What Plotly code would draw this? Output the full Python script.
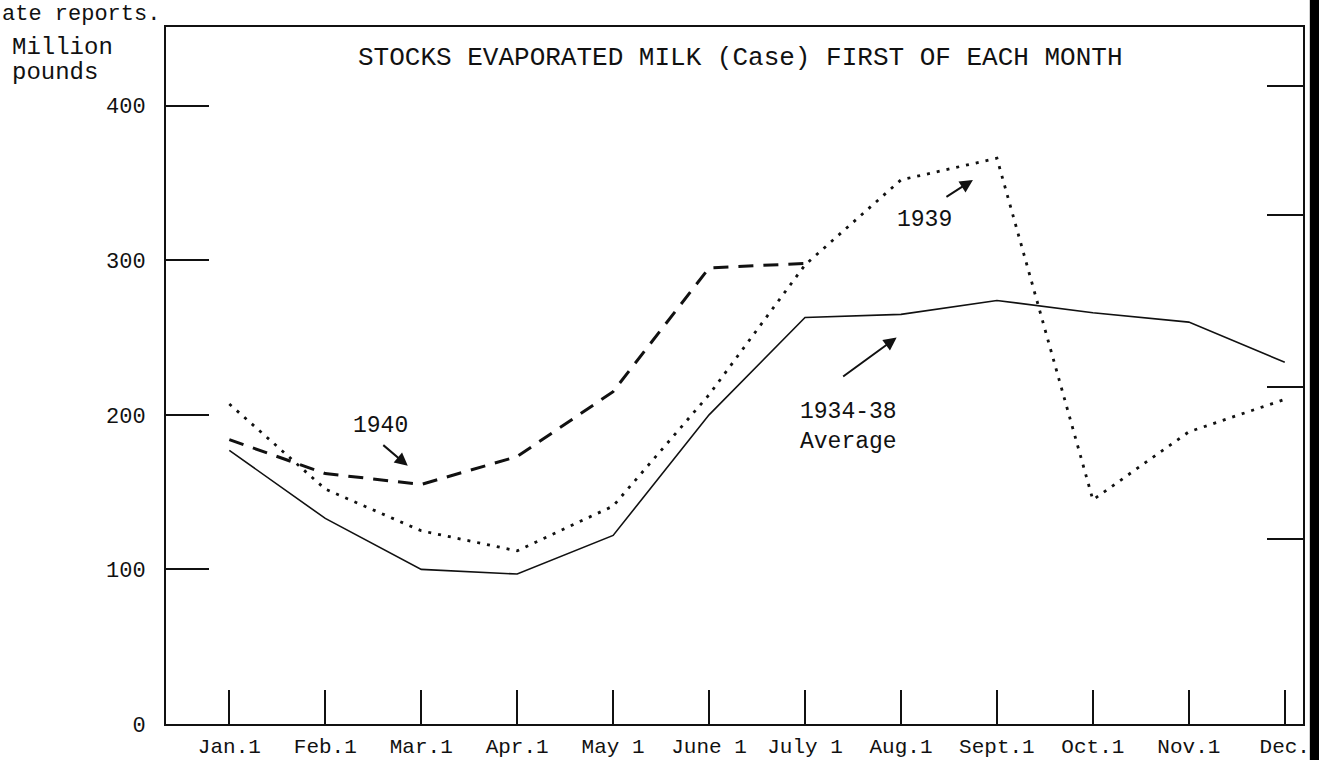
import plotly.graph_objects as go

months = ["Jan.1", "Feb.1", "Mar.1", "Apr.1", "May 1", "June 1", "July 1",
          "Aug.1", "Sept.1", "Oct.1", "Nov.1", "Dec."]
avg_1934_38 = [177, 133, 100, 97, 122, 200, 263, 265, 274, 266, 260, 234]
y1939 = [207, 152, 125, 112, 141, 213, 297, 352, 366, 145, 189, 210]
y1940 = [184, 162, 155, 173, 215, 295, 298]
yticks = [0, 100, 200, 300, 400]
ytick_text = ["0", "100", "200", "300", "400"]
right_marks = [120, 218, 329, 413]

FONT = "Liberation Mono, DejaVu Sans Mono, monospace"
INK = "#111111"

fig = go.Figure()
fig.add_trace(go.Scatter(x=months, y=avg_1934_38, mode="lines",
                         line=dict(color=INK, width=1.6), name="1934-38 Average"))
fig.add_trace(go.Scatter(x=months, y=y1939, mode="lines",
                         line=dict(color=INK, width=2.8, dash="3px,7px"), name="1939"))
fig.add_trace(go.Scatter(x=months[:len(y1940)], y=y1940, mode="lines",
                         line=dict(color=INK, width=3, dash="15px,10px"), name="1940"))
# invisible trace to activate right axis
fig.add_trace(go.Scatter(x=[months[0]], y=[0], yaxis="y2", mode="markers",
                         marker=dict(opacity=0), showlegend=False, hoverinfo="skip"))

fig.update_layout(
    width=1319, height=760,
    margin=dict(l=166, r=16, t=27, b=35.5),
    paper_bgcolor="white", plot_bgcolor="white",
    showlegend=False,
    font=dict(family=FONT, color=INK, size=22),
    xaxis=dict(type="category", range=[-0.66, 11.19], tickmode="array",
               tickvals=months, ticktext=months, ticks="inside", ticklen=34,
               tickwidth=2, tickcolor=INK, showline=True, linecolor=INK,
               linewidth=2, mirror=True, showgrid=False, zeroline=False,
               automargin=False, tickfont=dict(family=FONT, size=21, color=INK),
               ticklabelstandoff=2),
    yaxis=dict(range=[0, 450.9], tickmode="array", tickvals=yticks,
               ticktext=ytick_text, ticks="inside", ticklen=43, tickwidth=2,
               tickcolor=INK, showline=True, linecolor=INK, linewidth=2,
               mirror=True, showgrid=False, zeroline=False, automargin=False,
               tickfont=dict(family=FONT, size=22, color=INK),
               ticklabelstandoff=14),
    yaxis2=dict(range=[0, 450.9], overlaying="y", side="right", tickmode="array",
                tickvals=right_marks, ticks="inside", ticklen=36, tickwidth=2,
                tickcolor=INK, showticklabels=False, showgrid=False,
                zeroline=False, showline=False, automargin=False),
)

ann = [
    dict(text="STOCKS EVAPORATED MILK (Case) FIRST OF EACH MONTH", xref="paper",
         yref="paper", x=0.505, y=1.0, yshift=-31, showarrow=False,
         xanchor="center", yanchor="middle", font=dict(size=26)),
    dict(text="ate reports.", xref="paper", yref="paper", x=0, y=1, xshift=-166,
         yshift=13, showarrow=False, xanchor="left", yanchor="middle",
         font=dict(size=22)),
    dict(text="Million", xref="paper", yref="paper", x=0, y=1, xshift=-156,
         yshift=-20, showarrow=False, xanchor="left", yanchor="middle",
         font=dict(size=24)),
    dict(text="pounds", xref="paper", yref="paper", x=0, y=1, xshift=-156,
         yshift=-45, showarrow=False, xanchor="left", yanchor="middle",
         font=dict(size=24)),
    dict(text="1940", xref="x", yref="y", x=1.58, y=193, showarrow=False,
         font=dict(size=23)),
    dict(text="", xref="x", yref="y", x=1.86, y=167, ax=-26, ay=-22,
         axref="pixel", ayref="pixel", showarrow=True, arrowhead=2,
         arrowsize=1.3, arrowwidth=2, arrowcolor=INK),
    dict(text="1939", xref="x", yref="y", x=7.25, y=326, showarrow=False,
         font=dict(size=23)),
    dict(text="", xref="x", yref="y", x=7.75, y=352, ax=-28, ay=18,
         axref="pixel", ayref="pixel", showarrow=True, arrowhead=2,
         arrowsize=1.3, arrowwidth=2, arrowcolor=INK),
    dict(text="1934-38<br>Average", xref="x", yref="y", x=5.93, y=192,
         showarrow=False, font=dict(size=23), align="left", xanchor="left"),
    dict(text="", xref="x", yref="y", x=6.955, y=250, ax=-55, ay=40,
         axref="pixel", ayref="pixel", showarrow=True, arrowhead=2,
         arrowsize=1.3, arrowwidth=2, arrowcolor=INK),
]
fig.update_layout(annotations=ann)

fig.update_layout(shapes=[dict(type="rect", xref="paper", yref="paper",
                               x0=1.006, x1=1.03, y0=-0.06, y1=1.05,
                               fillcolor="black", line=dict(width=0))])

fig.write_html("out.html", config={"displayModeBar": False},
               post_script="document.body.style.margin='0';document.body.style.overflow='hidden';")
